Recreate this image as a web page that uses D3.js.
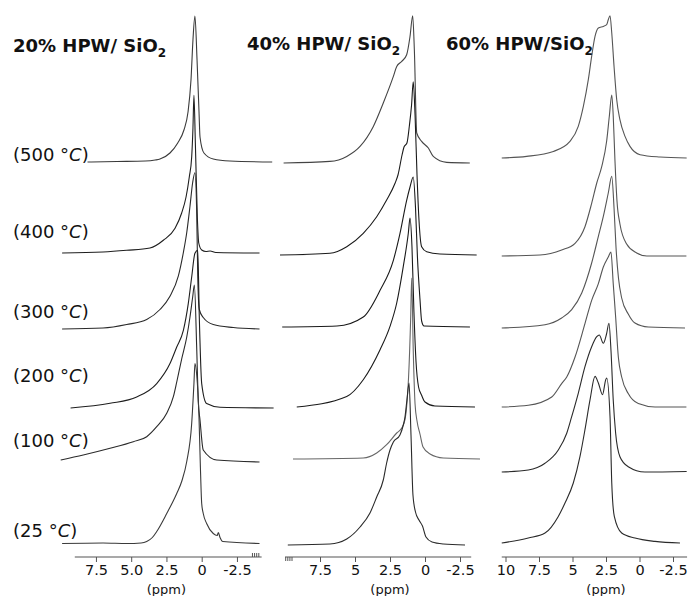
<!DOCTYPE html>
<html lang="en">
<head>
<meta charset="UTF-8" />
<title>1H MAS NMR of HPW/SiO2</title>
<script src="https://d3js.org/d3.v7.min.js"></script>
<style>
  body { margin: 0; background: #fff; }
  svg { display: block; background: #fff; }
  .spec { fill: none; stroke-width: 1.1px; stroke-linejoin: round; }
  .title { font-family: "DejaVu Sans", sans-serif; font-weight: bold; font-size: 18px; fill: #111; }
  .temp { font-family: "DejaVu Sans", sans-serif; font-size: 18px; fill: #111; }
  .axis line { stroke: #555; }
  .axis text { font-family: "DejaVu Sans", sans-serif; font-size: 14.5px; fill: #111; }
  .baseline { stroke: #555; stroke-width: 1.2px; }
  .unit { font-family: "DejaVu Sans", sans-serif; font-size: 13px; fill: #111; text-anchor: middle; }
</style>
</head>
<body>
<svg width="692" height="596"></svg>
<script>
// temperatures, top to bottom
const temps = ["500", "400", "300", "200", "100", "25"];
const titles = ["20% HPW/ SiO", "40% HPW/ SiO", "60% HPW/SiO"];

// vertical offset of each trace (a.u.), top to bottom
const offset20 = [395, 304, 228, 149, 95, 13.5];
const offset40 = [394, 302, 230, 150, 98, 12];
const offset60 = [399, 301, 229, 150, 85, 14];

// ticks (ppm) and their labels
const ticks20 = [7.5, 5.0, 2.5, 0, -2.5];
const labels20 = ["7.5", "5.0", "2.5", "0", "-2.5"];
const ticks40 = [7.5, 5, 2.5, 0, -2.5];
const labels40 = ["7.5", "5", "2.5", "0", "-2.5"];
const ticks60 = [10, 7.5, 5, 2.5, 0, -2.5];
const labels60 = ["10", "7.5", "5", "2.5", "0", "-2.5"];
const minor20 = [-3.6, -3.75, -3.9, -4.05];
const minor40 = [9.95, 9.8, 9.65, 9.5];

// spectra [ppm, intensity a.u.] -- 20% HPW/SiO2
const s20_500 = [[8.1,0],[6,0.5],[4,1],[3.3,2],[2.96,3],[2.25,9],[1.7,19],[1.26,32],[0.97,50],[0.76,82],[0.62,122],[0.48,146],[0.33,102],[0.19,50],[0.12,25],[-0.16,9],[-0.82,3],[-2,1],[-5,0]];
const s20_400 = [[9.9,0],[7,1],[5.32,2.7],[3.67,5],[2.72,12.7],[1.89,24.7],[1.42,40],[1.11,56],[0.88,76],[0.71,96],[0.62,125],[0.55,157.7],[0.45,110],[0.31,36],[0.21,10],[0,3],[-0.3,1.5],[-0.6,2],[-1,0.5],[-4.1,0]];
const s20_300 = [[9.9,0],[7,1],[5.32,4.5],[3.9,9.5],[2.96,19.5],[2.25,32.8],[1.66,52.8],[1.3,76.5],[1.06,96.5],[0.83,122.8],[0.64,146.5],[0.48,156.2],[0.35,112.8],[0.28,52.8],[0.17,19.5],[-0.11,11.5],[-0.82,4.5],[-2.24,1.5],[-4.1,0]];
const s20_200 = [[9.3,0],[6.5,4.7],[4.61,11],[3.19,24.4],[2.25,44.4],[1.77,61],[1.3,77.7],[0.95,104.7],[0.71,131],[0.48,154.7],[0.28,157.7],[0.17,91],[0,24.4],[-0.35,4.4],[-1.3,0.7],[-5.1,0]];
const s20_100 = [[10.0,2],[8.4,7],[6.5,13.7],[4.85,20.3],[3.9,25.3],[3.19,35.3],[2.48,48.7],[2.01,65.3],[1.77,80],[1.42,103],[1.06,125],[0.83,145],[0.64,165],[0.52,177],[0.35,112],[0.24,60],[0.12,42],[-0.11,12],[-1.06,2],[-4.1,0]];
const s20_25 = [[9.9,0],[7,0.5],[5.3,0],[4.3,0.5],[3.9,2],[3.5,6],[3.19,12],[2.48,30],[1.77,50],[1.42,62],[1.06,82],[0.71,120],[0.55,160],[0.48,180],[0.35,168],[0.2,130],[0.1,80],[0,40],[-0.11,30],[-0.35,20],[-0.82,10],[-1.1,8],[-1.18,11],[-1.3,6],[-1.5,2],[-4.1,0]];

// 40% HPW/SiO2
const s40_500 = [[10.1,0],[6.79,1.6],[5.59,6.6],[4.64,16.6],[3.69,36.6],[2.98,60],[2.26,86.6],[2.02,96.6],[1.66,101.6],[1.31,108.3],[1.07,126.6],[0.88,147.3],[0.76,113],[0.59,30],[0.24,21.6],[-0.24,15],[-0.59,6.6],[-1.55,0.6],[-3.2,0]];
const s40_400 = [[10.36,0],[6.79,1.7],[5.59,8.3],[4.41,21.7],[3.45,38.3],[2.74,55],[2.14,71.7],[1.93,80],[1.64,100],[1.5,108],[1.29,112],[1.11,130],[0.96,150],[0.84,173.3],[0.71,140],[0.57,80],[0.43,35],[0.24,8.3],[-0.12,3.3],[-1.07,1],[-3.69,0]];
const s40_300 = [[10.2,0],[6.29,1],[4.41,10],[3.21,36.7],[2.26,66.7],[1.79,93.3],[1.31,126.7],[1.07,140],[0.84,150],[0.68,120],[0.54,70],[0.36,28],[0.24,6],[0.07,1],[-3.21,0]];
const s40_200 = [[9.16,0],[5.59,10.6],[4.41,27.3],[3.21,57.3],[2.5,80.6],[2.02,104],[1.55,140.6],[1.19,174],[1.07,189],[0.93,160],[0.79,95],[0.64,45],[0.46,20],[0.25,12],[0,5],[-0.71,1],[-3.57,0]];
const s40_100 = [[9.43,0],[4.41,1],[3.45,6],[2.74,14.3],[2.02,26],[1.66,31],[1.43,39.3],[1.29,56],[1.18,80],[1.02,142.6],[0.95,181],[0.84,109],[0.71,55],[0.57,38],[0.36,25],[0.14,12],[-0.36,5],[-1.31,1],[-3.93,0]];
const s40_25 = [[9.8,0],[6.79,1],[5.59,6],[4.64,18],[3.93,32],[3.45,48],[2.98,65],[2.74,82],[2.5,95],[2.26,103],[1.79,110],[1.55,120],[1.43,128],[1.29,145],[1.14,162],[1.0,110],[0.86,50],[0.68,33],[0.43,25],[0.18,19],[-0.07,8],[-0.5,3],[-1.31,1],[-2.86,0]];

// 60% HPW/SiO2
const s60_500 = [[10.28,0],[8.42,1.6],[6.43,6.6],[5.19,16.6],[4.57,31.6],[4.19,51.6],[3.82,78.3],[3.57,101.6],[3.32,121.6],[3.07,130],[2.7,131.6],[2.45,133.3],[2.33,138.3],[2.2,142.3],[2.07,125],[1.9,91.6],[1.7,58.3],[1.46,38.3],[1.08,21.6],[0.71,11.6],[-0.04,3.3],[-1.53,1],[-3.52,0]];
const s60_400 = [[10.28,0],[7.43,1],[5.81,6],[4.81,12.7],[4.07,29.3],[3.57,52.7],[3.19,73],[2.82,89.3],[2.45,115],[2.25,140],[2.07,161],[1.96,140],[1.83,95],[1.68,55],[1.46,32],[0.96,12],[0.21,3],[-0.54,0],[-3.5,0]];
const s60_300 = [[10.28,0],[7.05,3.3],[5.81,10],[5.06,18.3],[4.31,35],[3.57,65],[3.07,91.6],[2.7,111.6],[2.33,135],[2.07,151.6],[1.9,120],[1.75,80],[1.57,50],[1.33,30],[0.84,14],[0.34,5],[-0.66,1],[-3.4,0]];
const s60_200 = [[10.28,0],[8.3,1.7],[6.55,10],[5.81,23.4],[5.43,30],[4.81,50],[4.07,83.4],[3.57,106.7],[3.07,123.4],[2.7,140],[2.33,150],[2.13,155],[1.96,123.4],[1.78,90],[1.58,50],[1.33,30],[0.84,13.4],[0.09,3.4],[-1.16,0],[-3.5,0]];
const s60_100 = [[10.28,0],[8.3,2],[7.05,8.7],[6.06,22],[5.43,38.7],[5.06,55.3],[4.57,78.7],[4.07,105.3],[3.57,125.3],[3.19,135.3],[3.0,137],[2.7,128.7],[2.46,138],[2.28,148.7],[2.13,122],[1.96,72],[1.78,38.7],[1.46,15.3],[0.84,5.3],[-0.41,0],[-3.52,0.5]];
const s60_25 = [[10.28,0],[8.3,5],[7.05,10],[6.06,26.6],[5.56,40],[4.94,60],[4.44,86.6],[4.07,113.3],[3.69,143.3],[3.32,166.6],[3.07,160],[2.76,148.3],[2.52,163.3],[2.45,165],[2.2,126.6],[2.07,60],[1.88,26.6],[1.33,10],[0.34,5],[-1.16,1.6],[-3.02,0]];

const svg = d3.select("svg");
const axisY = 557;

// one vertical scale shared by the three panels
const y = d3.scaleLinear().domain([0, 560]).range([axisY, axisY - 560]);

const panels = [
  { title: titles[0], titleX: 13, titleY: 52,
    x: d3.scaleLinear().domain([0, 10]).range([201.7, 60.7]),
    spectra: [s20_500, s20_400, s20_300, s20_200, s20_100, s20_25], offsets: offset20,
    colors: ["#3a3a3a", "#1e1e1e", "#2a2a2a", "#1e1e1e", "#2a2a2a", "#3a3a3a"],
    ticks: ticks20, labels: labels20, axisFrom: 9.0, axisTo: -4.25, minor: minor20, minorDir: -1 },
  { title: titles[1], titleX: 247, titleY: 50,
    x: d3.scaleLinear().domain([0, 10]).range([425, 285]),
    spectra: [s40_500, s40_400, s40_300, s40_200, s40_100, s40_25], offsets: offset40,
    colors: ["#444", "#1a1a1a", "#1a1a1a", "#1a1a1a", "#666", "#2a2a2a"],
    ticks: ticks40, labels: labels40, axisFrom: 10.0, axisTo: -3.3, minor: minor40, minorDir: 1 },
  { title: titles[2], titleX: 446, titleY: 50,
    x: d3.scaleLinear().domain([0, 10]).range([639.5, 505.5]),
    spectra: [s60_500, s60_400, s60_300, s60_200, s60_100, s60_25], offsets: offset60,
    colors: ["#555", "#555", "#555", "#555", "#2a2a2a", "#2a2a2a"],
    ticks: ticks60, labels: labels60, axisFrom: 10.28, axisTo: -3.55, minor: [], minorDir: 1 }
];

// temperature label baselines (left panel only)
const tempLabelY = [161, 238, 318, 382, 447, 537];

panels.forEach(p => {
  const g = svg.append("g");

  // traces: lower ones drawn last so they sit on top
  p.spectra.forEach((s, i) => {
    const line = d3.line()
      .x(d => p.x(d[0]))
      .y(d => y(p.offsets[i] + d[1]))
      .curve(d3.curveMonotoneX);
    g.append("path")
      .datum(s)
      .attr("class", "spec")
      .attr("stroke", p.colors[i])
      .attr("d", line);
  });

  // ppm axis
  const ax = g.append("g")
    .attr("class", "axis")
    .attr("transform", `translate(0,${axisY})`)
    .call(d3.axisBottom(p.x)
      .tickValues(p.ticks)
      .tickFormat((d, i) => p.labels[i])
      .tickSize(5)
      .tickPadding(3)
      .tickSizeOuter(0));
  ax.select(".domain").remove();
  ax.append("line")
    .attr("class", "baseline")
    .attr("x1", p.x(p.axisFrom))
    .attr("x2", p.x(p.axisTo));
  ax.selectAll(".minor")
    .data(p.minor)
    .join("line")
    .attr("class", "minor")
    .attr("stroke", "#666")
    .attr("x1", d => p.x(d)).attr("x2", d => p.x(d))
    .attr("y1", 0).attr("y2", 4 * p.minorDir);

  g.append("text")
    .attr("class", "unit")
    .attr("x", p.x(2.5))
    .attr("y", 594)
    .text("(ppm)");

  // panel title with subscript
  const t = g.append("text")
    .attr("class", "title")
    .attr("x", p.titleX)
    .attr("y", p.titleY)
    .text(p.title);
  t.append("tspan")
    .attr("dy", 5)
    .attr("font-size", 12)
    .text("2");
});

// temperature labels
svg.selectAll(".temp")
  .data(temps)
  .join("text")
  .attr("class", "temp")
  .attr("x", 13)
  .attr("y", (d, i) => tempLabelY[i])
  .each(function(d) {
    const t = d3.select(this);
    t.append("tspan").text(`(${d} °`);
    t.append("tspan").attr("font-style", "italic").text("C");
    t.append("tspan").text(")");
  });
</script>
</body>
</html>
